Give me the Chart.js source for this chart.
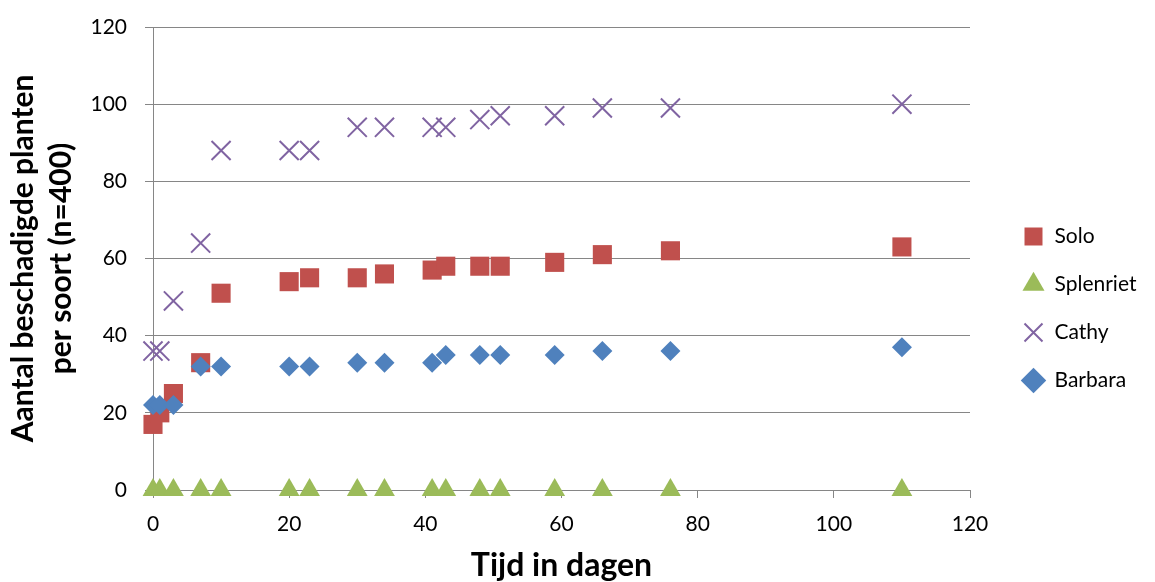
<!DOCTYPE html>
<html>
<head>
<meta charset="utf-8">
<script src="https://cdn.jsdelivr.net/npm/chart.js@4/dist/chart.umd.min.js"></script>
<style>
  html, body { margin: 0; padding: 0; background: #fff; }
</style>
</head>
<body>
<canvas id="chart" width="1155" height="582"></canvas>
<script>
// Tijd in dagen (x) en aantal beschadigde planten per soort (y)
var days      = [0, 1, 3, 7, 10, 20, 23, 30, 34, 41, 43, 48, 51, 59, 66, 76, 110];
var solo      = [17, 20, 25, 33, 51, 54, 55, 55, 56, 57, 58, 58, 58, 59, 61, 62, 63];
var splenriet = [0, 0, 0, 0, 0, 0, 0, 0, 0, 0, 0, 0, 0, 0, 0, 0, 0];
var cathy     = [36, 36, 49, 64, 88, 88, 88, 94, 94, 94, 94, 96, 97, 97, 99, 99, 100];
var barbara   = [22, 22, 22, 32, 32, 32, 32, 33, 33, 33, 35, 35, 35, 35, 36, 36, 37];

var xTicks = [0, 20, 40, 60, 80, 100, 120];
var yTicks = [0, 20, 40, 60, 80, 100, 120];

var gridGrey = '#868686';
var fontFamily = 'Lato, "Open Sans", sans-serif';

function points(ys) {
    return days.map(function(d, i) { return { x: d, y: ys[i] }; });
}

// legend column is wider than its labels: keep the plot narrower
// and draw the entries a bit further right and lower
var LEGEND_WIDTH = 185;
var LEGEND_SHIFT_X = 26;
var LEGEND_SHIFT_Y = 4;
var legendGap = {
    id: 'legendGap',
    afterInit: function(chart) {
        var legend = chart.legend;
        var fit = legend.fit;
        legend.fit = function() {
            fit.call(this);
            this.width = LEGEND_WIDTH;
        };
    },
    afterLayout: function(chart) {
        chart.legend.left += LEGEND_SHIFT_X;
        chart.legend.top += LEGEND_SHIFT_Y;
        chart.legend.bottom += LEGEND_SHIFT_Y;
    }
};

var ctx = document.getElementById('chart').getContext('2d');

var chart = new Chart(ctx, {
    type: 'scatter',
    data: {
        datasets: [{
            label: 'Solo',
            data: points(solo),
            pointStyle: 'rect',
            pointRadius: 13.5,
            backgroundColor: '#C0504D',
            borderColor: '#C0504D',
            borderWidth: 0,
            order: 3
        }, {
            label: 'Splenriet',
            data: points(splenriet),
            pointStyle: 'triangle',
            pointRadius: 12,
            backgroundColor: '#9BBB59',
            borderColor: '#9BBB59',
            borderWidth: 0,
            order: 2
        }, {
            label: 'Cathy',
            data: points(cathy),
            pointStyle: 'crossRot',
            pointRadius: 13.5,
            backgroundColor: '#8064A2',
            borderColor: '#8064A2',
            borderWidth: 2,
            order: 1
        }, {
            label: 'Barbara',
            data: points(barbara),
            pointStyle: 'rectRot',
            pointRadius: 10,
            backgroundColor: '#4F81BD',
            borderColor: '#4F81BD',
            borderWidth: 0,
            order: 0
        }]
    },
    options: {
        responsive: false,
        animation: false,
        devicePixelRatio: 1,
        clip: false,
        layout: {
            padding: { left: 0, top: 27, right: 0, bottom: 0 }
        },
        scales: {
            x: {
                type: 'linear',
                min: 0,
                max: 120,
                afterBuildTicks: function(scale) {
                    scale.ticks = xTicks.map(function(v) { return { value: v }; });
                },
                afterFit: function(scale) { scale.height = 92; },
                grid: {
                    drawOnChartArea: false,
                    drawTicks: true,
                    tickLength: 8,
                    color: gridGrey
                },
                border: { color: gridGrey },
                ticks: {
                    color: '#000',
                    padding: 14,
                    font: { family: fontFamily, size: 21 }
                },
                title: {
                    display: true,
                    text: 'Tijd in dagen',
                    color: '#000',
                    padding: { top: 0, bottom: 0 },
                    font: { family: fontFamily, size: 32, weight: 'bold', lineHeight: 1.0 }
                }
            },
            y: {
                min: 0,
                max: 120,
                afterBuildTicks: function(scale) {
                    scale.ticks = yTicks.map(function(v) { return { value: v }; });
                },
                afterFit: function(scale) {
                    scale.width = 153;
                    // labels sit beside the ticks, no extra room above/below
                    scale.paddingTop = 0;
                    scale.paddingBottom = 0;
                },
                grid: {
                    drawTicks: true,
                    tickLength: 8,
                    color: gridGrey
                },
                border: { color: gridGrey },
                ticks: {
                    color: '#000',
                    padding: 18,
                    font: { family: fontFamily, size: 21 }
                },
                title: {
                    display: true,
                    text: ['Aantal beschadigde planten', 'per soort (n=400)'],
                    color: '#000',
                    padding: { top: 5, bottom: 0 },
                    font: { family: fontFamily, size: 30, weight: 'bold', lineHeight: 1.25 }
                }
            }
        },
        plugins: {
            legend: {
                position: 'right',
                align: 'center',
                labels: {
                    usePointStyle: true,
                    boxHeight: 18,
                    padding: 27,
                    color: '#000',
                    font: { family: fontFamily, size: 21 },
                    sort: function(a, b) { return a.datasetIndex - b.datasetIndex; }
                }
            },
            tooltip: { enabled: false }
        }
    },
    plugins: [legendGap]
});
</script>
</body>
</html>
